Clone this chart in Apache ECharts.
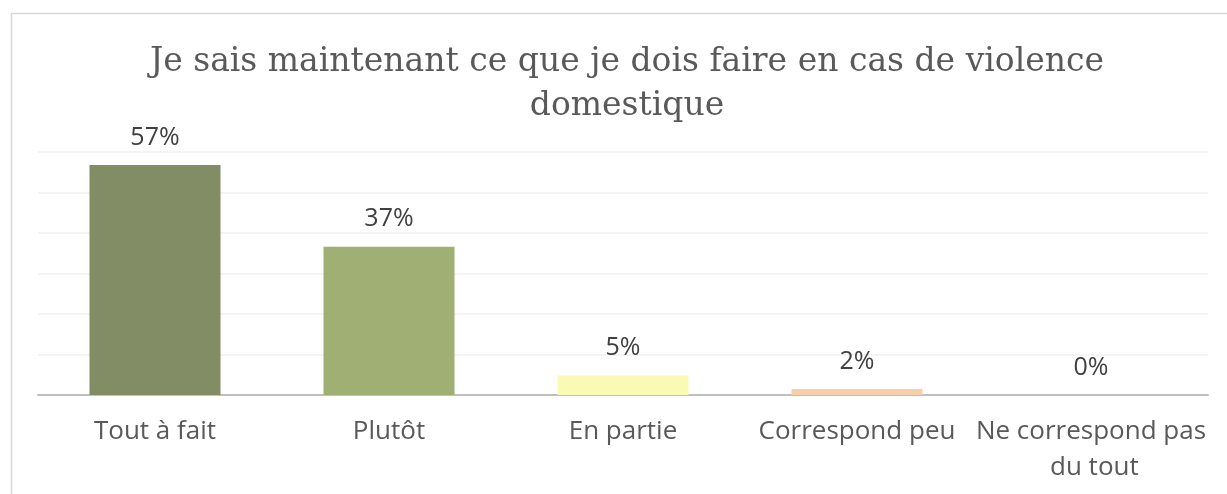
<!DOCTYPE html>
<html>
<head>
<meta charset="utf-8">
<script src="https://cdn.jsdelivr.net/npm/echarts@6/dist/echarts.min.js"></script>
<style>
  html, body { margin: 0; padding: 0; background: #fff; }
  #chart_container { width: 1227px; height: 494px; }
</style>
</head>
<body>
<div id="chart_container"></div>
<script>
// categories and values
var categories = ['Tout à fait', 'Plutôt', 'En partie', 'Correspond peu', 'Ne correspond pas du tout'];
var values = [56.8, 36.6, 4.9, 1.5, 0];
var barColors = ['#838D65', '#A0B075', '#FAFAB4', '#F7CFAA', '#D9D9D9'];

var chartDom = document.getElementById('chart_container');
var myChart = echarts.init(chartDom);

var option = {
    animation: false,
    title: {
        text: 'Je sais maintenant ce que je dois faire en cas de violence\ndomestique',
        left: 622,
        textAlign: 'center',
        top: 35,
        textStyle: {
            fontFamily: 'DejaVu Serif',
            fontWeight: 'normal',
            fontSize: 33,
            lineHeight: 44,
            color: '#595959',
        },
    },
    graphic: [
        {
            type: 'rect',
            left: 9,
            top: 11,
            shape: { width: 1240, height: 500 },
            style: { fill: 'none', stroke: '#D9D9D9', lineWidth: 1.5 },
            silent: true,
        },
    ],
    grid: {
        left: 38,
        right: 19,
        top: 152,
        bottom: 99,
    },
    xAxis: {
        type: 'category',
        data: categories,
        axisTick: { show: false },
        axisLine: { lineStyle: { color: '#BFBFBF', width: 2 } },
        axisLabel: {
            interval: 0,
            margin: 19,
            fontFamily: 'Open Sans',
            fontSize: 26,
            lineHeight: 36,
            color: '#595959',
            width: 232,
            overflow: 'break',
        },
    },
    yAxis: {
        type: 'value',
        min: 0,
        max: 60,
        interval: 10,
        axisLabel: { show: false },
        axisLine: { show: false },
        axisTick: { show: false },
        splitLine: { lineStyle: { color: '#F0F0F0', width: 1.5 } },
    },
    series: [
        {
            type: 'bar',
            barWidth: '56%',
            data: values.map(function (v, i) {
                return { value: v, itemStyle: { color: barColors[i] } };
            }),
            label: {
                show: true,
                position: 'top',
                distance: 15,
                fontFamily: 'Open Sans',
                fontSize: 25,
                color: '#404040',
                formatter: function (p) {
                    return Math.round(p.value) + '%';
                },
            },
        },
    ],
};

myChart.setOption(option);
</script>
</body>
</html>
